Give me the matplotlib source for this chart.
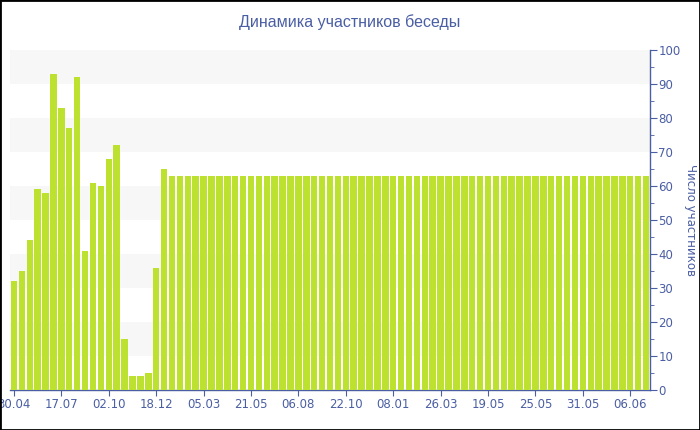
import matplotlib
matplotlib.use("Agg")
import matplotlib.pyplot as plt
from matplotlib.patches import Rectangle
from matplotlib import font_manager

values = [32, 35, 44, 59, 58, 93, 83, 77, 92, 41, 61, 60, 68, 72, 15, 4, 4, 5, 36, 65] + [63] * 61
tick_labels = ["30.04", "17.07", "02.10", "18.12", "05.03", "21.05", "06.08",
               "22.10", "08.01", "26.03", "19.05", "25.05", "31.05", "06.06"]
title = "Динамика участников беседы"
ylabel = "Число участников"

blue = "#4a5ea3"
green = "#bde12f"

names = {f.name for f in font_manager.fontManager.ttflist}
title_font = "Liberation Sans Narrow" if "Liberation Sans Narrow" in names else "Liberation Sans"

fig = plt.figure(figsize=(7, 4.3), dpi=100)
ax = fig.add_axes([10/700, 40/430, 640/700, 340/430])

x = list(range(len(values)))
ax.bar(x, values, width=0.82, color=green, zorder=3)
ax.set_xlim(-0.5, len(values) - 0.5)
ax.set_ylim(0, 100)

for lo in range(10, 100, 20):
    ax.axhspan(lo, lo + 10, color="#f7f7f7", zorder=0, lw=0)

tick_pos = [i * 6 for i in range(len(tick_labels))]
ax.set_xticks(tick_pos)
ax.set_xticklabels(tick_labels)
ax.yaxis.tick_right()
ax.yaxis.set_label_position("right")
ax.set_yticks(range(0, 101, 10))
ax.set_yticks(range(5, 100, 10), minor=True)

for s in ["left", "top"]:
    ax.spines[s].set_visible(False)
for s in ["right", "bottom"]:
    ax.spines[s].set_color(blue)
    ax.spines[s].set_linewidth(1)

ax.tick_params(axis="x", colors=blue, labelsize=8.5, length=4, pad=2, labelcolor=blue)
ax.tick_params(axis="y", which="major", colors=blue, labelsize=8.5, length=5, pad=1)
ax.tick_params(axis="y", which="minor", colors=blue, length=3)

ax.set_ylabel(ylabel, rotation=270, color=blue, fontsize=8.5, va="center")
ax.yaxis.set_label_coords(1 + 40/640, 0.5)

fig.text(350/700, 1 - 22/430, title, ha="center", va="center", color=blue,
         fontsize=11.5, family=title_font)

fig.patches.append(Rectangle((0, 0), 1, 1, transform=fig.transFigure, fill=False,
                             edgecolor="black", linewidth=2, zorder=10))

fig.savefig("out.png", dpi=100)
